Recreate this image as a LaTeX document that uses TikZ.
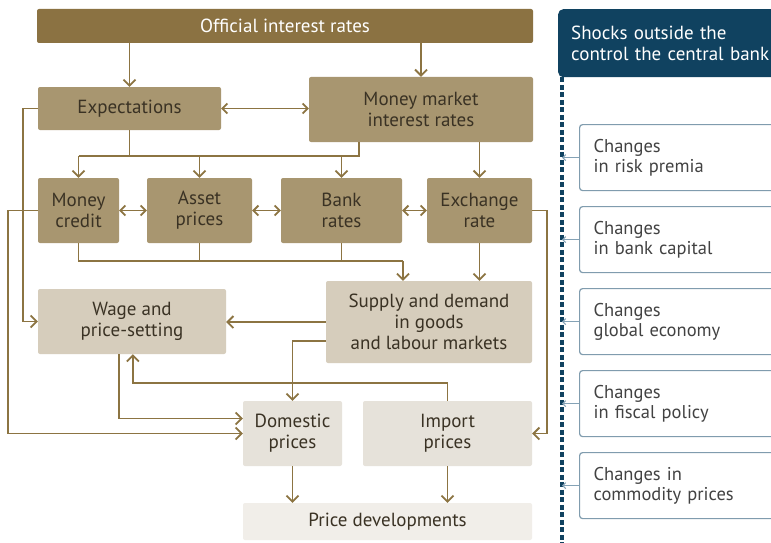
\documentclass[tikz,border=0pt]{standalone}
\usepackage{fontspec}
\setmainfont{PT Sans}
\usepackage{tikz}
\usetikzlibrary{arrows.meta, positioning, calc}
\definecolor{golddark}{RGB}{139,114,66}
\definecolor{goldmid}{RGB}{168,150,112}
\definecolor{goldlight}{RGB}{214,205,188}
\definecolor{greylight}{RGB}{230,226,218}
\definecolor{palegrey}{RGB}{241,238,233}
\definecolor{arrowgold}{RGB}{140,116,66}
\definecolor{boxtext}{RGB}{58,50,36}
\definecolor{headblue}{RGB}{16,66,96}
\definecolor{shockframe}{RGB}{128,156,174}
\definecolor{shockline}{RGB}{132,162,182}
\definecolor{shocktext}{RGB}{66,66,66}
\tikzset{
  box/.style={rectangle, align=center, inner sep=2pt, rounded corners=2pt,
    font=\fontsize{19}{21}\selectfont, text=boxtext},
  topblock/.style={box, fill=golddark, text=white},
  block/.style={box, fill=goldmid},
  lightblock/.style={box, fill=goldlight},
  greyblock/.style={box, fill=greylight},
  paleblock/.style={box, fill=palegrey},
  shockhead/.style={rectangle, fill=headblue, text=white, rounded corners=5pt,
    anchor=north west, align=left, text width=214pt, inner xsep=13pt,
    minimum height=68pt, font=\fontsize{19}{21}\selectfont},
  shockbox/.style={rectangle, draw=shockframe, fill=white, line width=1.2pt,
    rounded corners=3pt, anchor=north west, align=left, text width=200pt,
    inner xsep=14pt, minimum height=66pt, text=shocktext,
    font=\fontsize{18.5}{20}\selectfont},
  arrow/.style={-{Straight Barb[length=6pt,width=12pt]}, line width=1.8pt, color=arrowgold},
  dblarrow/.style={{Straight Barb[length=5pt,width=10pt]}-{Straight Barb[length=5pt,width=10pt]},
    line width=1.8pt, color=arrowgold},
  line/.style={line width=1.8pt, color=arrowgold},
  shockarrow/.style={-{Straight Barb[length=3pt,width=6pt]}, line width=1pt, color=shockline},
  dashline/.style={line width=3.5pt, color=headblue, dash pattern=on 5pt off 2.5pt}
}

\begin{document}
\begin{tikzpicture}[x=1pt, y=-1pt]
\useasboundingbox (0,0) rectangle (771,543);
\fill[white] (0,0) rectangle (771,543);
\clip (0,0) rectangle (771,543);

% transmission boxes
\node[topblock, minimum width=496pt, minimum height=34pt] (official) at (285,26) {Official interest rates};
\node[block, minimum width=183pt, minimum height=43pt] (expect) at (129.5,108.5) {Expectations};
\node[block, minimum width=224pt, minimum height=65pt] (mmr) at (421,109.5) {Money market\\interest rates};
\node[block, minimum width=81pt, minimum height=65pt] (money) at (78.5,210.5) {Money\\credit};
\node[block, minimum width=105pt, minimum height=65pt] (asset) at (199.5,210.5) {Asset\\prices};
\node[block, minimum width=121pt, minimum height=65pt] (bank) at (341.5,210.5) {Bank\\rates};
\node[block, minimum width=105pt, minimum height=65pt] (exch) at (479.5,210.5) {Exchange\\rate};
\node[lightblock, minimum width=188pt, minimum height=65pt] (wage) at (132,321.5) {Wage and\\price-setting};
\node[lightblock, minimum width=206pt, minimum height=82pt] (supply) at (429,322) {Supply and demand\\in goods\\and labour markets};
\node[greyblock, minimum width=99pt, minimum height=65pt] (domestic) at (292.5,433.5) {Domestic\\prices};
\node[greyblock, minimum width=169pt, minimum height=65pt] (import) at (447.5,433.5) {Import\\prices};
\node[paleblock, minimum width=289pt, minimum height=37pt] (pricedev) at (387.5,521.5) {Price developments};

% first steps
\draw[arrow] (official.south -| expect) -- (expect.north);
\draw[arrow] (official.south -| mmr) -- (mmr.north);
\draw[dblarrow] (expect.east) -- (mmr.west |- expect.east);

% fan out to the middle row
\coordinate (split) at (129.5,156);
\draw[line] (expect.south) -- (split);
\draw[line] (money.north |- split) -- ([xshift=50pt]mmr.south west |- split) -- ([xshift=50pt]mmr.south west);
\foreach \n in {money,asset,bank}
  \draw[arrow] (\n.north |- split) -- (\n.north);
\draw[arrow] (mmr.south -| exch) -- (exch.north);
\draw[dblarrow] (money.east) -- (asset.west);
\draw[dblarrow] (asset.east) -- (bank.west);
\draw[dblarrow] (bank.east) -- (exch.west);

% into goods and labour markets
\coordinate (merge) at (403,261);
\draw[line] (money.south) |- (merge);
\draw[line] (asset.south) -- (asset.south |- merge);
\draw[line] (bank.south) -- (bank.south |- merge);
\draw[arrow] (merge) -- (merge |- supply.north);
\draw[arrow] (exch.south) -- (exch.south |- supply.north);

% long paths on the left
\draw[arrow] (expect.west) -- ++(-15,0) |- (wage.west);
\draw[arrow] (money.west) -- ++(-30,0) |- (domestic.west);
\draw[arrow] ([xshift=81pt]wage.south west) |- ([yshift=15pt]domestic.west);
\draw[arrow] (supply.west) -- (supply.west -| wage.east);
\draw[arrow] ([yshift=-19pt]supply.west) -| (domestic.north);
\draw[arrow] (import.north) -- ++(0,-18) -| ([xshift=95pt]wage.south west);
\draw[arrow] (exch.east) -- ++(15,0) |- (import.east);

% prices
\draw[arrow] (domestic.south) -- (domestic.south |- pricedev.north);
\draw[arrow] (import.south) -- (import.south |- pricedev.north);

% shocks column
\node[shockhead] (shocks) at (558,9) {Shocks outside the\\control the central bank};
\coordinate (rail) at (562,543);
\draw[dashline] (shocks.south west -| rail) -- (rail);
\foreach \i/\txt in {1/{Changes\\in risk premia}, 2/{Changes\\in bank capital},
    3/{Changes\\global economy}, 4/{Changes\\in fiscal policy}, 5/{Changes in\\commodity prices}} {
  \node[shockbox] (s\i) at (579,{124+82*(\i-1)}) {\txt};
  \draw[shockarrow] (s\i.west) -- (s\i.west -| rail);
}
\end{tikzpicture}
\end{document}
